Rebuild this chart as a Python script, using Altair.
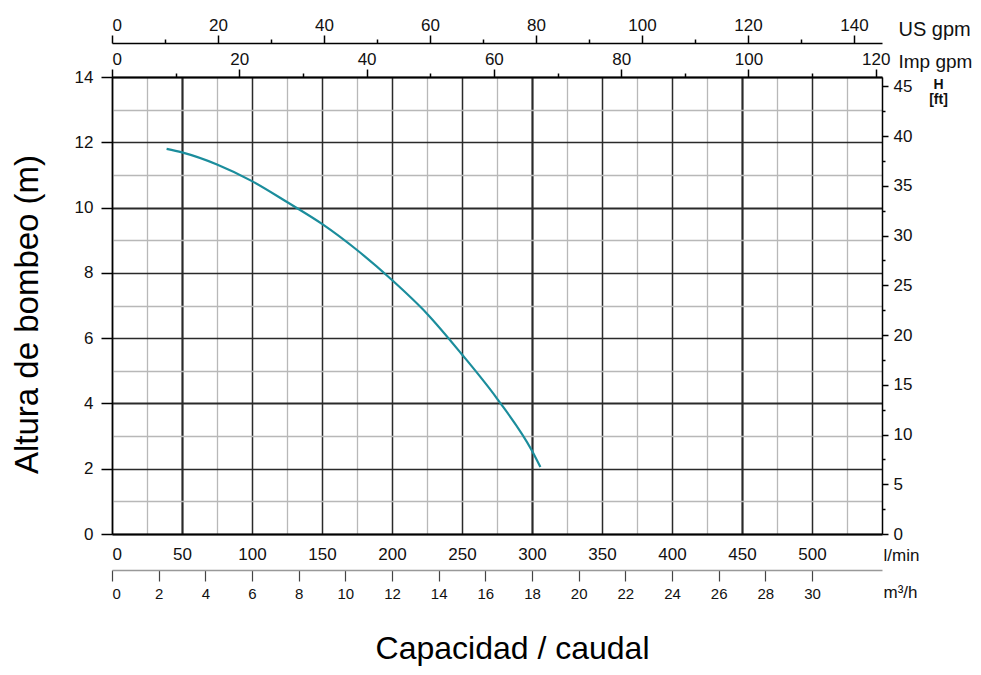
import altair as alt
import pandas as pd

# ---- data ----
flow_lmin = [39, 50, 75, 100, 125, 150, 175, 200, 225, 250, 275, 300, 306]
head_m = [11.8, 11.69, 11.32, 10.81, 10.17, 9.5, 8.7, 7.78, 6.75, 5.5, 4.15, 2.55, 2.05]

lmin_grid = list(range(0, 550, 25))
lmin_labels = list(range(0, 550, 50))
m_ticks = list(range(0, 15))
usgpm_major = list(range(0, 150, 20))
usgpm_minor = list(range(10, 150, 20))
impgpm_major = list(range(0, 130, 20))
impgpm_minor = list(range(10, 130, 20))
m3h_ticks = list(range(0, 32, 2))
ft_major = list(range(0, 50, 5))
ft_minor = [2.5 + 5 * i for i in range(9)]

LMIN_MAX = 550
M_MAX = 14
usgpm_max = LMIN_MAX / 3.78541
impgpm_max = LMIN_MAX / 4.54609
m3h_max = LMIN_MAX * 0.06
ft_max = M_MAX * 3.28084

FONT = "Liberation Sans"
W, H = 770, 457


def aux(maxv):
    return pd.DataFrame({"v": [0, maxv]})


def xaxis_layer(maxv, **axis_kw):
    return alt.Chart(aux(maxv)).mark_point(opacity=0).encode(
        x=alt.X("v:Q", scale=alt.Scale(domain=[0, maxv], nice=False, zero=False),
                axis=alt.Axis(grid=False, labelFont=FONT, labelColor="#111",
                              titleFont=FONT, titleFontWeight="normal", titleColor="#111",
                              **axis_kw))
    )


def yaxis_layer(maxv, **axis_kw):
    return alt.Chart(aux(maxv)).mark_point(opacity=0).encode(
        y=alt.Y("v:Q", scale=alt.Scale(domain=[0, maxv], nice=False, zero=False),
                axis=alt.Axis(grid=False, labelFont=FONT, labelColor="#111",
                              titleFont=FONT, titleColor="#111",
                              **axis_kw))
    )


curve_df = pd.DataFrame({"q": flow_lmin, "h": head_m})

main = alt.Chart(curve_df).mark_line(color="#1b8d9c", strokeWidth=2.2,
                                     interpolate="monotone").encode(
    x=alt.X("q:Q", scale=alt.Scale(domain=[0, LMIN_MAX], nice=False, zero=False),
            axis=alt.Axis(orient="bottom", values=lmin_grid, grid=True,
                          gridColor={"condition": {"test": "datum.value % 50 === 0", "value": "#2a2a2a"},
                                     "value": "#b8b8b8"},
                          gridWidth={"condition": [
                              {"test": "datum.value === 50 || datum.value === 300 || datum.value === 450",
                               "value": 2.2},
                              {"test": "datum.value % 50 === 0", "value": 1.5}],
                              "value": 1.3},
                          labels=False, ticks=False, domain=True, domainColor="#000", domainWidth=2,
                          title="Capacidad / caudal", titleFont=FONT, titleFontSize=32,
                          titleFontWeight="normal", titleColor="#000",
                          titleX=400, titleY=124, titleAlign="center", titleBaseline="alphabetic")),
    y=alt.Y("h:Q", scale=alt.Scale(domain=[0, M_MAX], nice=False, zero=False),
            axis=alt.Axis(orient="left", values=m_ticks, grid=True,
                          gridColor={"condition": {"test": "datum.value % 2 === 0", "value": "#2a2a2a"},
                                     "value": "#b8b8b8"},
                          gridWidth={"condition": [
                              {"test": "datum.value === 4 || datum.value === 10", "value": 2.2},
                              {"test": "datum.value % 2 === 0", "value": 1.5}],
                              "value": 1.3},
                          tickOpacity={"condition": {"test": "datum.value % 2 === 0", "value": 1},
                                       "value": 0},
                          tickColor="#000", tickSize=11, tickWidth=1.5,
                          labelExpr="datum.value % 2 === 0 ? datum.label : ''",
                          labelFont=FONT, labelFontSize=17, labelColor="#111", labelPadding=8,
                          domain=True, domainColor="#000", domainWidth=1.5,
                          title="Altura de bombeo (m)", titleFont=FONT, titleFontSize=33,
                          titleFontWeight="normal", titleColor="#000", titleAngle=270,
                          titleX=-75, titleY=237, titleAlign="center", titleBaseline="alphabetic")),
)

lmin_layer = xaxis_layer(LMIN_MAX, orient="bottom", values=lmin_labels, domain=False, ticks=False,
                         labelFontSize=17, labelPadding=12,
                         title="l/min", titleFontSize=17, titleX=771, titleY=26,
                         titleAlign="left", titleBaseline="alphabetic")

us_major = xaxis_layer(usgpm_max, orient="top", offset=34, values=usgpm_major,
                       domain=True, domainColor="#000", domainWidth=1.5,
                       ticks=True, tickSize=8, tickColor="#000", tickWidth=1.5,
                       labelFontSize=17, labelPadding=1,
                       title="US gpm", titleFontSize=20, titleX=786, titleY=-8,
                       titleAlign="left", titleBaseline="alphabetic")
us_minor = xaxis_layer(usgpm_max, orient="top", offset=34, values=usgpm_minor,
                       domain=False, ticks=True, tickSize=4, tickColor="#000", tickWidth=1.5,
                       labels=False, title=None)

imp_major = xaxis_layer(impgpm_max, orient="top", offset=0, values=impgpm_major,
                        domain=True, domainColor="#000", domainWidth=2,
                        ticks=True, tickSize=8, tickColor="#000", tickWidth=1.5,
                        labelFontSize=17, labelPadding=1,
                        title="Imp gpm", titleFontSize=19, titleX=786, titleY=-10,
                        titleAlign="left", titleBaseline="alphabetic")
imp_minor = xaxis_layer(impgpm_max, orient="top", offset=0, values=impgpm_minor,
                        domain=False, ticks=True, tickSize=4, tickColor="#000", tickWidth=1.5,
                        labels=False, title=None)

m3h_layer = xaxis_layer(m3h_max, orient="bottom", offset=36, values=m3h_ticks,
                        domain=True, domainColor="#999", domainWidth=1.5,
                        ticks=True, tickSize=11, tickColor="#444", tickWidth=1.2,
                        labelFontSize=15, labelPadding=5,
                        title="m³/h", titleFontSize=17, titleX=771, titleY=27,
                        titleAlign="left", titleBaseline="alphabetic")

ft_major_layer = yaxis_layer(ft_max, orient="right", values=ft_major,
                             domain=True, domainColor="#000", domainWidth=1.5,
                             ticks=True, tickSize=6, tickColor="#000", tickWidth=1.5,
                             labelFontSize=17, labelPadding=5,
                             title=["H", "[ft]"], titleFontSize=14, titleFontWeight="bold",
                             titleAngle=0,
                             titleX=56, titleY=11, titleAlign="center",
                             titleBaseline="alphabetic", titleLineHeight=15)
ft_minor_layer = yaxis_layer(ft_max, orient="right", values=ft_minor,
                             domain=False, ticks=True, tickSize=3, tickColor="#000", tickWidth=1.5,
                             labels=False, title=None)

chart = alt.layer(
    main, lmin_layer, us_major, us_minor, imp_major, imp_minor, m3h_layer,
    ft_major_layer, ft_minor_layer
).resolve_scale(
    x="independent", y="independent"
).properties(
    width=W, height=H,
    autosize=alt.AutoSizeParams(type="none"),
    padding={"left": 104, "top": 69, "right": 91, "bottom": 133},
    background="white",
).configure_view(stroke=None)

chart.save("out.html", embed_options={"renderer": "svg", "actions": False})
